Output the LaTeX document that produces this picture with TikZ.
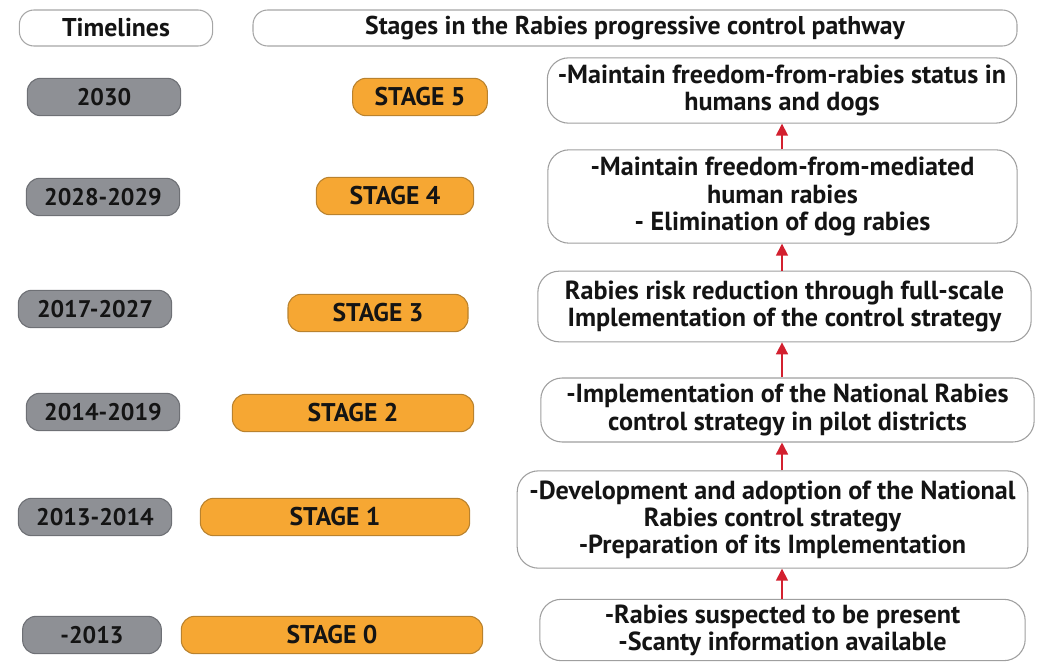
\documentclass[tikz,border=0pt]{standalone}
\usepackage{fontspec}
\setmainfont{PT Sans}
\usetikzlibrary{arrows.meta}

\definecolor{yeargray}{HTML}{8E9095}
\definecolor{yearedge}{HTML}{6E7075}
\definecolor{stageorange}{HTML}{F6A733}
\definecolor{stageedge}{HTML}{B9822E}
\definecolor{arrowred}{HTML}{D3202F}

\tikzset{
  boxtext/.style={font=\bfseries\fontsize{18}{20}\selectfont, text=black!92},
  headbox/.style={font=\bfseries\fontsize{19.3}{20}\selectfont, text=black!92,
    draw=gray!70, fill=white, line width=0.8pt,
    rounded corners=11pt, minimum height=27pt, inner sep=0pt},
  yearbox/.style={boxtext, draw=yearedge, fill=yeargray, line width=0.8pt,
    rounded corners=10pt, minimum height=28pt, inner sep=0pt},
  stagebox/.style={boxtext, font=\bfseries\fontsize{19.2}{20}\selectfont,
    draw=stageedge, fill=stageorange, line width=0.8pt,
    rounded corners=10pt, minimum height=28pt, inner sep=0pt},
  pathbox/.style={font=\bfseries\fontsize{19.6}{20.3}\selectfont, text=black!92,
    draw=gray!75, fill=white, line width=0.8pt,
    rounded corners=16pt, align=center, inner sep=0pt},
  uparrow/.style={arrowred, line width=1.2pt, -{Triangle[width=9pt,length=9pt]}}
}

\begin{document}
\begin{tikzpicture}[x=0.75pt,y=-0.75pt]
  \useasboundingbox (0,0) rectangle (1038,663);

  % headers
  \node[headbox, minimum width=145pt] (hTime)  at (116,28) {Timelines};
  \node[headbox, minimum width=573pt] (hStage) at (635,28) {Stages in the Rabies progressive control pathway};

  % timelines
  \node[yearbox, minimum width=115pt] (y5) at (104,97)  {2030};
  \node[yearbox, minimum width=115pt] (y4) at (103,197) {2028-2029};
  \node[yearbox, minimum width=115pt] (y3) at (95,309)  {2017-2027};
  \node[yearbox, minimum width=115pt] (y2) at (103,412) {2014-2019};
  \node[yearbox, minimum width=115pt] (y1) at (95,517)  {2013-2014};
  \node[yearbox, minimum width=104pt] (y0) at (92,635)  {-2013};

  % stages
  \node[stagebox, minimum width=101pt] (s5) at (420,97)  {STAGE 5};
  \node[stagebox, minimum width=118pt] (s4) at (395,196) {STAGE 4};
  \node[stagebox, minimum width=135pt] (s3) at (378,313) {STAGE 3};
  \node[stagebox, minimum width=181pt] (s2) at (353,413) {STAGE 2};
  \node[stagebox, minimum width=202pt] (s1) at (335,517) {STAGE 1};
  \node[stagebox, minimum width=226pt] (s0) at (332,635) {STAGE 0};

  % pathway
  \node[pathbox, minimum width=352pt, minimum height=49pt] (p5) at (782,90.5)
    {-Maintain freedom-from-rabies status in\\humans and dogs};
  \node[pathbox, minimum width=352pt, minimum height=70pt] (p4) at (782.5,196.5)
    {-Maintain freedom-from-mediated\\human rabies\\- Elimination of dog rabies};
  \node[pathbox, minimum width=370pt, minimum height=53pt] (p3) at (784.5,306.5)
    {Rabies risk reduction through full-scale\\Implementation of the control strategy};
  \node[pathbox, minimum width=370pt, minimum height=48pt] (p2) at (787.5,410)
    {-Implementation of the National Rabies\\control strategy in pilot districts};
  \node[pathbox, minimum width=383pt, minimum height=73pt] (p1) at (772.5,519.5)
    {-Development and adoption of the National\\Rabies control strategy\\-Preparation of its Implementation};
  \node[pathbox, minimum width=364pt, minimum height=46pt] (p0) at (782.5,630)
    {-Rabies suspected to be present\\-Scanty information available};

  \foreach \a/\b in {p0/p1,p1/p2,p2/p3,p3/p4,p4/p5}
    \draw[uparrow] (\a.north -| p5.center) -- (\b.south -| p5.center);
\end{tikzpicture}
\end{document}
